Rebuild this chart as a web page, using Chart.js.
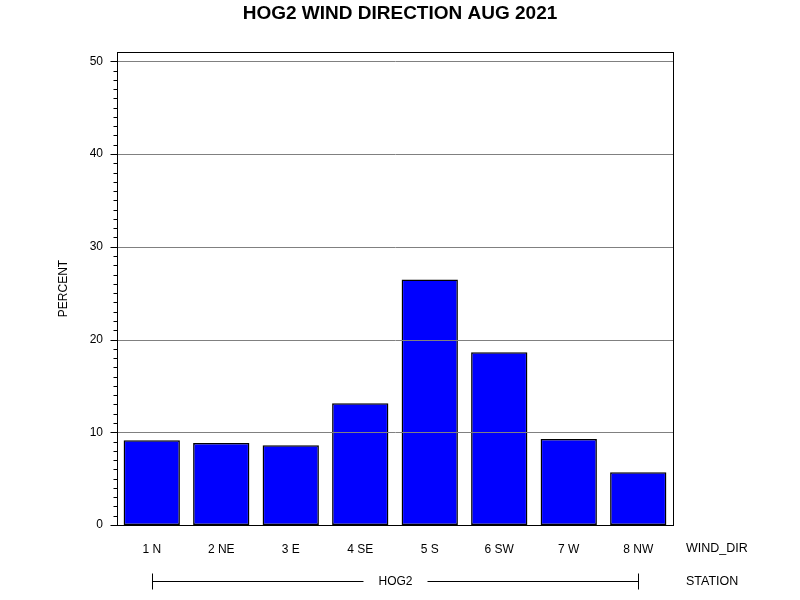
<!DOCTYPE html>
<html>
<head>
<meta charset="utf-8">
<script src="https://cdn.jsdelivr.net/npm/chart.js@4.4.0/dist/chart.umd.min.js"></script>
<style>body{margin:0;background:#fff}</style>
</head>
<body>
<canvas id="c" width="800" height="600"></canvas>
<script>
// data
const windDirs = ["1 N", "2 NE", "3 E", "4 SE", "5 S", "6 SW", "7 W", "8 NW"];
const percent = [9.15, 8.83, 8.61, 13.13, 26.48, 18.62, 9.26, 5.70];
const yTicks = [0, 10, 20, 30, 40, 50];
const station = "HOG2";
const title = "HOG2 WIND DIRECTION AUG 2021";

const FONT = "'Liberation Sans', Arial, sans-serif";

// grid on top of bars, frame, minor ticks, axis captions
const decor = {
  id: 'decor',
  afterDatasetsDraw(chart) {
    const {ctx, chartArea: a, scales: {x, y}} = chart;
    const L = Math.round(a.left) + 0.5, R = Math.round(a.right) + 0.5;
    const T = Math.round(a.top) + 0.5, B = Math.round(a.bottom) + 0.5;
    ctx.save();
    ctx.lineWidth = 1;

    ctx.strokeStyle = '#808080';
    yTicks.forEach(v => {
      if (v === 0) return;
      const py = Math.round(y.getPixelForValue(v)) + 0.5;
      ctx.beginPath(); ctx.moveTo(L, py); ctx.lineTo(R, py); ctx.stroke();
    });

    ctx.strokeStyle = '#000';
    ctx.strokeRect(L, T, R - L, B - T);

    // y tick marks, minor every 1
    for (let v = 0; v <= 50; v++) {
      const py = Math.round(y.getPixelForValue(v)) + 0.5;
      const len = v % 10 === 0 ? 7 : 4;
      ctx.beginPath(); ctx.moveTo(L - len, py); ctx.lineTo(L, py); ctx.stroke();
    }

    ctx.fillStyle = '#000';
    ctx.textBaseline = 'middle';

    ctx.font = 'bold 19px ' + FONT;
    ctx.textAlign = 'center';
    ctx.fillText(title, 400, 14);

    ctx.font = '12px ' + FONT;
    ctx.save();
    ctx.translate(64, (a.top + a.bottom) / 2);
    ctx.rotate(-Math.PI / 2);
    ctx.fillText('PERCENT', 0, 0);
    ctx.restore();

    ctx.font = '12.5px ' + FONT;
    ctx.textAlign = 'left';
    ctx.fillText('WIND_DIR', 686, 549);
    ctx.fillText('STATION', 686, 582);

    // station bracket
    const x0 = Math.round(x.getPixelForValue(0)) + 0.5;
    const x1 = Math.round(x.getPixelForValue(windDirs.length - 1)) + 0.5;
    const ly = 581.5, mid = (x0 + x1) / 2;
    ctx.font = '12px ' + FONT;
    const half = ctx.measureText(station).width / 2 + 15;
    ctx.beginPath();
    ctx.moveTo(x0, ly - 8); ctx.lineTo(x0, ly + 8);
    ctx.moveTo(x1, ly - 8); ctx.lineTo(x1, ly + 8);
    ctx.moveTo(x0, ly); ctx.lineTo(mid - half, ly);
    ctx.moveTo(mid + half, ly); ctx.lineTo(x1, ly);
    ctx.stroke();
    ctx.textAlign = 'center';
    ctx.fillText(station, mid, ly + 0.5);
    ctx.restore();
  }
};

new Chart(document.getElementById('c'), {
  type: 'bar',
  data: {
    labels: windDirs,
    datasets: [{
      data: percent,
      backgroundColor: '#0000ff',
      borderColor: '#000',
      borderWidth: 1.5,
      borderSkipped: false,
      barPercentage: 0.81,
      categoryPercentage: 1
    }]
  },
  options: {
    responsive: false,
    animation: false,
    devicePixelRatio: 1,
    layout: { padding: { left: 0, right: 127, top: 52, bottom: 0 } },
    plugins: {
      legend: { display: false },
      tooltip: { enabled: false },
      title: { display: false }
    },
    scales: {
      x: {
        grid: { display: false, drawTicks: false },
        border: { display: false },
        ticks: { color: '#000', font: { family: FONT, size: 12 }, padding: 17, maxRotation: 0 },
        afterFit: s => { s.height = 75; }
      },
      y: {
        min: 0,
        max: 51,
        grid: { display: false, drawTicks: false },
        border: { display: false },
        ticks: { color: '#000', font: { family: FONT, size: 12 }, padding: 14 },
        afterBuildTicks: s => { s.ticks = yTicks.map(v => ({ value: v })); },
        afterFit: s => { s.width = 117; }
      }
    }
  },
  plugins: [decor]
});
</script>
</body>
</html>
